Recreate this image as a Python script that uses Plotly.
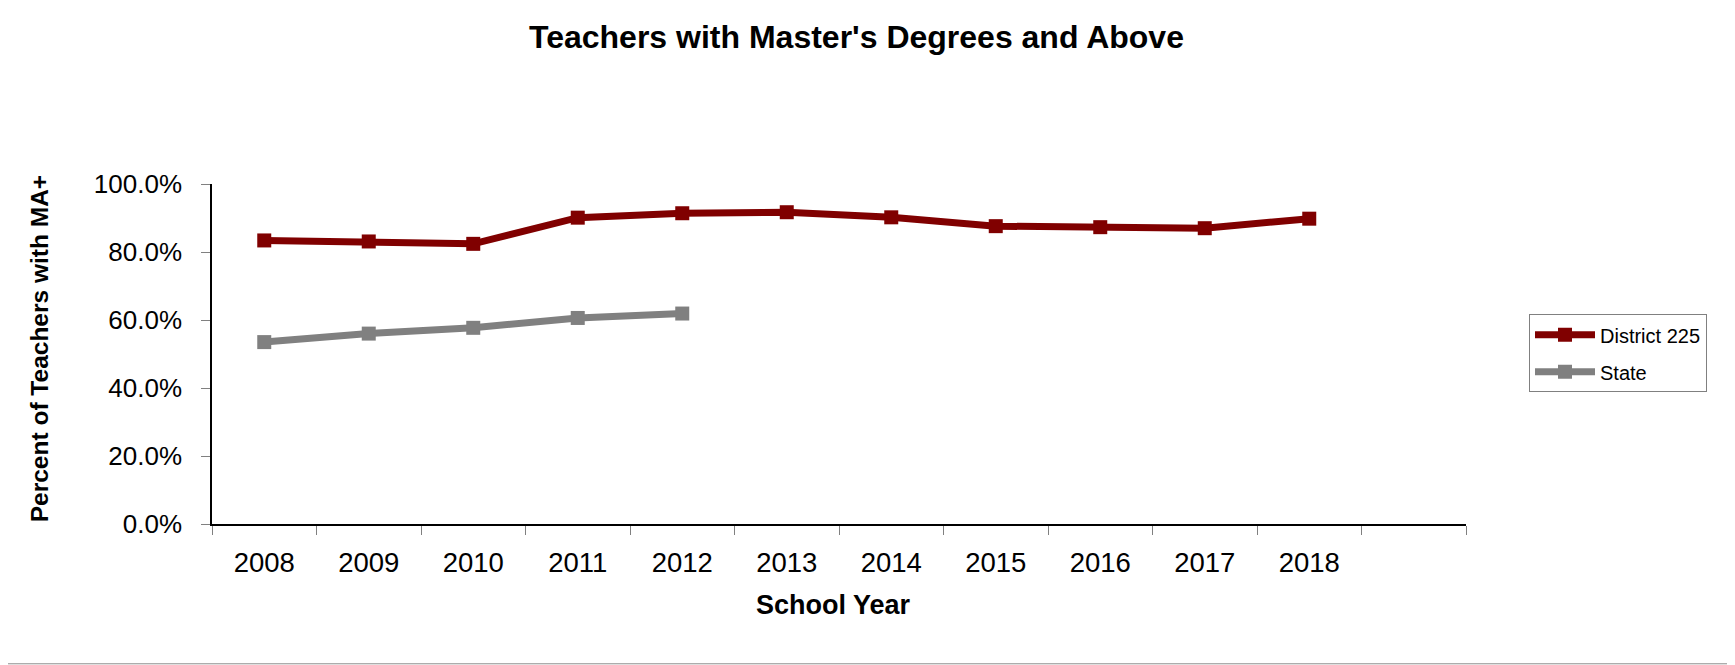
import plotly.graph_objects as go

# school years and percent of teachers holding an MA or higher
years = [2008, 2009, 2010, 2011, 2012, 2013, 2014, 2015, 2016, 2017, 2018]
district_pct = [83.4, 83.1, 82.4, 90.1, 91.4, 91.7, 90.2, 87.6, 87.3, 87.0, 89.8]
state_years = [2008, 2009, 2010, 2011, 2012]
state_pct = [53.5, 56.0, 57.7, 60.6, 61.9]
y_ticks = [0, 20, 40, 60, 80, 100]

# the page body adds an 8px margin, so the figure is shrunk by that much
OFF = 8
PAGE_W, PAGE_H = 1735, 665
W, H = PAGE_W - OFF, PAGE_H - OFF
L, R, T, B = 212, 1466, 183.5, 524  # plot area in page pixels
pw, ph = R - L, B - T


def px(x):
    return (x - L) / pw


def py(y):
    return (B - y) / ph


FONT = "Liberation Sans, Arial, sans-serif"

fig = go.Figure()
fig.add_trace(go.Scatter(
    x=years, y=district_pct, name="District 225", mode="lines+markers",
    legendgroup="d",
    line=dict(color="#800000", width=7),
    marker=dict(symbol="square", size=14, color="#800000"),
))
fig.add_trace(go.Scatter(
    x=state_years, y=state_pct, name="State", mode="lines+markers",
    legendgroup="s",
    line=dict(color="#808080", width=7),
    marker=dict(symbol="square", size=14, color="#808080"),
))

fig.update_layout(
    width=W, height=H,
    margin=dict(l=L - OFF, r=PAGE_W - R, t=T - OFF, b=PAGE_H - B),
    paper_bgcolor="white", plot_bgcolor="white",
    font=dict(family=FONT, color="black"),
    showlegend=True,
    legend=dict(
        x=px(1529), y=py(314), xanchor="left", yanchor="top",
        bordercolor="#808080", borderwidth=1,
        font=dict(size=20, family=FONT),
        itemwidth=60, traceorder="grouped", tracegroupgap=8,
        entrywidth=180, entrywidthmode="pixels",
    ),
    annotations=[
        dict(text="<b>Teachers with Master's Degrees and Above</b>",
             x=px(856), y=py(36), xref="paper", yref="paper",
             xanchor="center", yanchor="middle", showarrow=False,
             font=dict(size=32, family=FONT)),
        dict(text="<b>School Year</b>",
             x=px(833), y=py(605), xref="paper", yref="paper",
             xanchor="center", yanchor="middle", showarrow=False,
             font=dict(size=27, family=FONT)),
        dict(text="<b>Percent of Teachers with MA+</b>",
             x=px(39), y=py(349), xref="paper", yref="paper", textangle=-90,
             xanchor="center", yanchor="middle", showarrow=False,
             font=dict(size=24.5, family=FONT)),
    ],
    shapes=[
        dict(type="line", xref="paper", yref="paper",
             x0=px(OFF), x1=px(PAGE_W), y0=py(664), y1=py(664),
             line=dict(color="#8c8c8c", width=1)),
    ],
)

fig.update_xaxes(
    range=[2007.5, 2019.5],
    tickvals=years, ticktext=[str(y) for y in years],
    ticks="", showgrid=False, zeroline=False,
    showline=True, linecolor="black", linewidth=1.5,
    tickfont=dict(size=27.5, family=FONT),
    ticklabelstandoff=13,
    minor=dict(tick0=2007.5, dtick=1, ticks="outside", ticklen=9,
               tickcolor="#808080", showgrid=False),
)
fig.update_yaxes(
    range=[0, 100],
    tickvals=y_ticks, ticktext=[f"{v:.1f}%" for v in y_ticks],
    ticks="outside", ticklen=9, tickcolor="#808080",
    showgrid=False, zeroline=False,
    showline=True, linecolor="black", linewidth=1.5,
    tickfont=dict(size=26, family=FONT),
    ticklabelstandoff=14,
)

fig.write_html("out.html")
